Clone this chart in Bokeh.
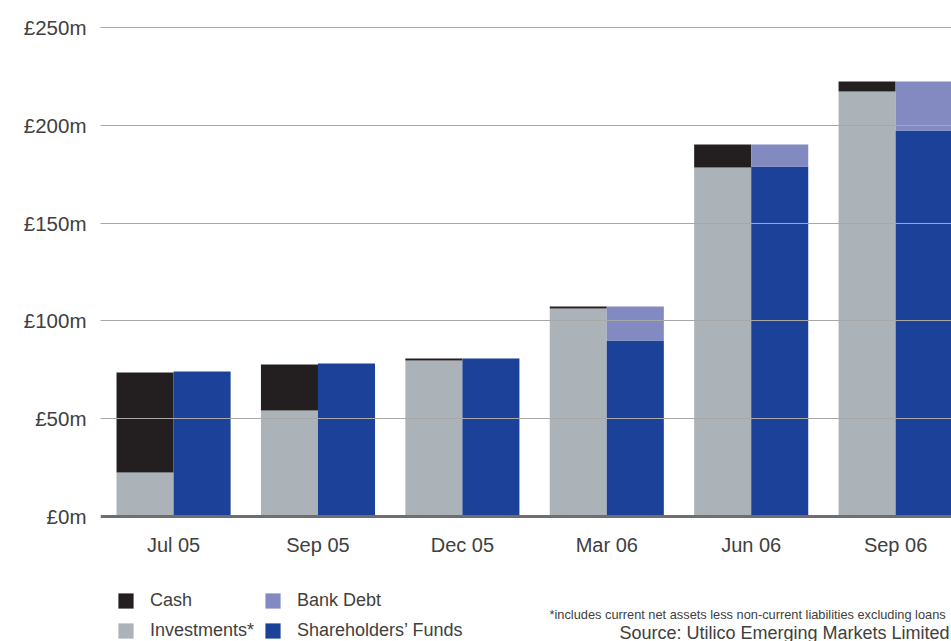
from bokeh.plotting import figure
from bokeh.models import ColumnDataSource, Range1d, FixedTicker, Legend, LegendItem, Label
from bokeh.embed import file_html
from bokeh.resources import INLINE

periods = ["Jul 05", "Sep 05", "Dec 05", "Mar 06", "Jun 06", "Sep 06"]
investments = [22.5, 54.2, 79.8, 106.3, 178.4, 217.3]
cash = [51.1, 23.5, 1.0, 1.1, 11.8, 5.1]
shareholders_funds = [74.1, 78.2, 80.8, 90.0, 178.9, 197.3]
bank_debt = [0.0, 0.0, 0.0, 17.4, 11.3, 25.1]
y_ticks = [0, 50, 100, 150, 200, 250]
y_tick_labels = ["£0m", "£50m", "£100m", "£150m", "£200m", "£250m"]

C_CASH = "#231f20"
C_INV = "#abb3b9"
C_DEBT = "#8389c1"
C_SF = "#1b4199"
FONT = "Liberation Sans"
TXT = "#404040"

idx = list(range(len(periods)))
off = 0.1975
w = 0.395
src = ColumnDataSource(dict(
    xl=[i - off for i in idx], xr=[i + off for i in idx],
    investments=investments, cash=cash,
    sf=shareholders_funds, debt=bank_debt))

p = figure(width=951, height=641, output_backend="svg", toolbar_location=None,
           x_range=Range1d(-0.506, 5.387), y_range=Range1d(-63.9, 255.1),
           min_border_left=100, min_border_right=0, min_border_top=17, min_border_bottom=0)
p.outline_line_color = None
p.background_fill_color = "white"
p.border_fill_color = "white"

r_left = p.vbar_stack(["investments", "cash"], x="xl", width=w, source=src,
                      color=[C_INV, C_CASH], line_width=0)
r_right = p.vbar_stack(["sf", "debt"], x="xr", width=w, source=src,
                       color=[C_SF, C_DEBT], line_width=0)

p.xgrid.visible = False
p.ygrid.ticker = FixedTicker(ticks=y_ticks[1:])
p.ygrid.grid_line_color = "#a8a8a8"
p.ygrid.grid_line_width = 1
p.ygrid.level = "overlay"

p.yaxis.ticker = FixedTicker(ticks=y_ticks)
p.yaxis.major_label_overrides = {t: l for t, l in zip(y_ticks, y_tick_labels)}
p.yaxis.axis_line_color = None
p.yaxis.major_tick_line_color = None
p.yaxis.minor_tick_line_color = None
p.yaxis.major_label_standoff = 8
p.yaxis.major_label_text_font = FONT
p.yaxis.major_label_text_font_size = "20.5px"
p.yaxis.major_label_text_color = TXT

p.xaxis.fixed_location = 0
p.xaxis.ticker = FixedTicker(ticks=idx)
p.xaxis.major_label_overrides = {i: l for i, l in zip(idx, periods)}
p.xaxis.axis_line_color = "#6e6e6e"
p.xaxis.axis_line_width = 3
p.xaxis.major_tick_line_color = None
p.xaxis.minor_tick_line_color = None
p.xaxis.major_label_standoff = 11
p.xaxis.major_label_text_font = FONT
p.xaxis.major_label_text_font_size = "20px"
p.xaxis.major_label_text_color = TXT

legend = Legend(items=[
    LegendItem(label="Cash", renderers=[r_left[1]]),
    LegendItem(label="Investments*", renderers=[r_left[0]]),
    LegendItem(label="Bank Debt", renderers=[r_right[1]]),
    LegendItem(label="Shareholders\u2019 Funds", renderers=[r_right[0]]),
], ncols=2, location=(16, 0), orientation="vertical",
    glyph_width=19, glyph_height=19, label_standoff=15, spacing=9,
    label_text_font=FONT, label_text_font_size="18px", label_text_color=TXT,
    border_line_color=None, background_fill_alpha=0, padding=0, margin=0,
    label_height=19)
p.add_layout(legend, "center")

p.add_layout(Label(x=449, y=27, x_units="screen", y_units="screen",
                   text="*includes current net assets less non-current liabilities excluding loans",
                   text_font=FONT, text_font_size="12.8px", text_color=TXT,
                   text_baseline="middle"))
p.add_layout(Label(x=519, y=9, x_units="screen", y_units="screen",
                   text="Source: Utilico Emerging Markets Limited",
                   text_font=FONT, text_font_size="18px", text_color=TXT,
                   text_baseline="middle"))

open("out.html", "w").write(file_html(p, INLINE))
